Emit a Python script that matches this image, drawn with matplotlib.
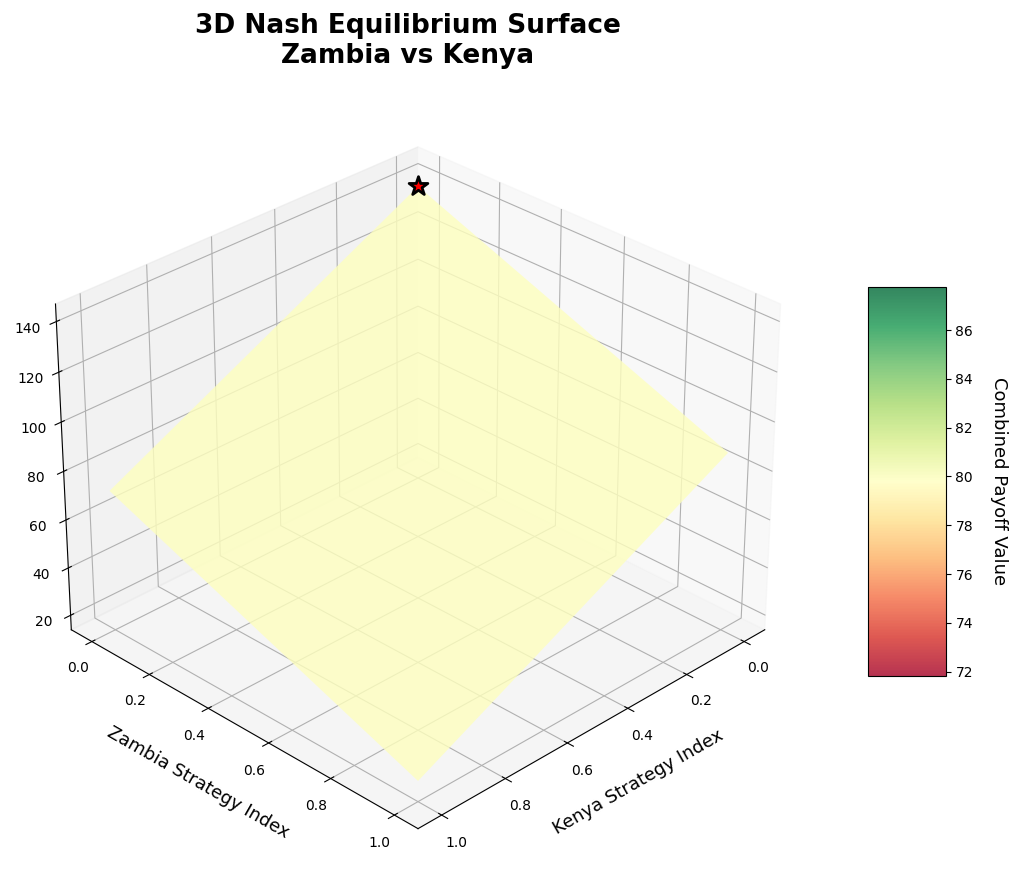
import numpy as np
import matplotlib
matplotlib.use("Agg")
import matplotlib.pyplot as plt
from matplotlib.colors import ListedColormap, Normalize
from matplotlib.cm import ScalarMappable

# strategy grid (Kenya on x, Zambia on y)
kenya_idx = [0.0, 1.0]
zambia_idx = [0.0, 1.0]
# payoff surface, rows = Zambia index, cols = Kenya index
payoff = [[138.4, 72.0],
          [87.6, 22.3]]
nash_point = (0.0, 0.0, 138.4)
combined_value = 79.8

K, Zm = np.meshgrid(kenya_idx, zambia_idx)
P = np.array(payoff)

fig = plt.figure(figsize=(10.24, 8.82), dpi=100)
ax = fig.add_axes([0.0176, 0.0130, 0.7607, 0.8832], projection="3d")
ax.computed_zorder = False

base = plt.get_cmap("RdYlGn")
ax.plot_surface(K, Zm, P, color=base(0.5), alpha=0.8, shade=False,
                linewidth=0, antialiased=True, zorder=1)
ax.scatter([nash_point[0]], [nash_point[1]], [nash_point[2]], marker="*",
           s=200, c="red", edgecolors="black", linewidths=2,
           depthshade=False, zorder=5)

ax.view_init(elev=30, azim=45)

ax.set_xlabel("Kenya Strategy Index", fontsize=13, labelpad=11)
ax.set_ylabel("Zambia Strategy Index", fontsize=13, labelpad=11)
ax.set_title("3D Nash Equilibrium Surface\nZambia vs Kenya",
             fontsize=19, fontweight="bold", pad=20.5)

cols = base(np.linspace(0, 1, 256))
cols[:, 3] = 0.8
sm = ScalarMappable(cmap=ListedColormap(cols),
                    norm=Normalize(combined_value * 0.9, combined_value * 1.1))
sm.set_array([])
cax = fig.add_axes([0.8474, 0.2336, 0.0762, 0.4414])
cbar = fig.colorbar(sm, cax=cax)
cbar.set_label("Combined Payoff Value", rotation=270, labelpad=25, fontsize=13)

fig.savefig("out.png", dpi=100)
